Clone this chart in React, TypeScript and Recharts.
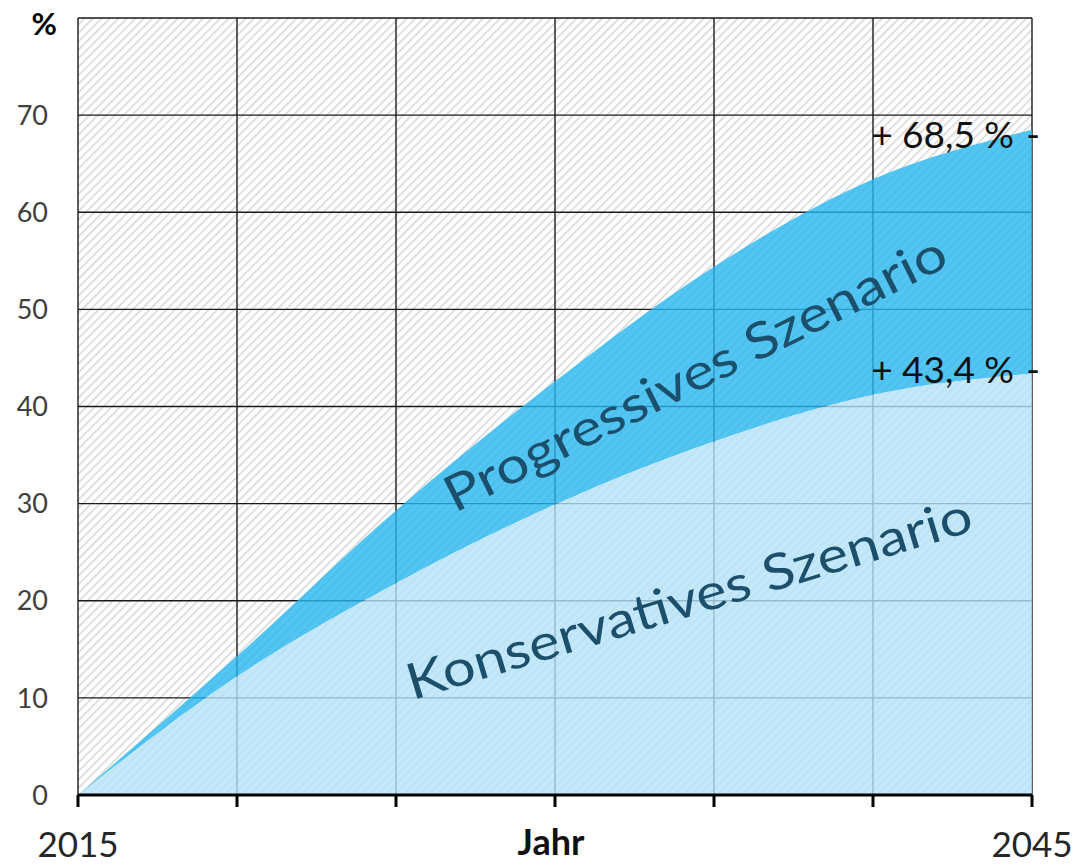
import { ComposedChart, Area, XAxis, YAxis, CartesianGrid, ReferenceDot, Label } from "recharts";

const YEARS = [2015, 2020, 2025, 2030, 2035, 2040, 2045];
const PROGRESSIVE = [0, 14.3, 29.3, 42.6, 54.4, 63.4, 68.5];
const CONSERVATIVE = [0, 12.2, 21.8, 29.9, 36.4, 41.2, 43.4];
const Y_TICKS = [0, 10, 20, 30, 40, 50, 60, 70, 80];
const X_TICK_LABELS = ["2015", "", "", "", "", "", "2045"];
const X_TITLE = "Jahr";
const Y_UNIT = "%";
const END_LABELS = ["+ 68,5 %", "+ 43,4 %"];
const SCENARIO_NAMES = ["Progressives Szenario", "Konservatives Szenario"];

const FONT = "Lato, 'Open Sans', sans-serif";
const TEXT_DARK = "#1b4f6b";

const data = YEARS.map((year, i) => ({
  year,
  kons: CONSERVATIVE[i],
  band: [CONSERVATIVE[i], PROGRESSIVE[i]],
}));

function YTick({ x, y, payload }: any) {
  if (payload.value === 80) {
    return (
      <text x={x + 9} y={y + 17} textAnchor="end" fontFamily={FONT} fontSize={31} fontWeight={700} fill="#000">
        {Y_UNIT}
      </text>
    );
  }
  return (
    <text x={x} y={y} dy="0.36em" textAnchor="end" fontFamily={FONT} fontSize={27} fill="#404040">
      {payload.value}
    </text>
  );
}

function XTick({ x, y, index }: any) {
  const label = X_TICK_LABELS[index] ?? "";
  if (!label) return null;
  return (
    <text x={x} y={y} dy={48} textAnchor="middle" fontFamily={FONT} fontSize={35} fill="#262626">
      {label}
    </text>
  );
}

function endLabel(text: string, dy: number) {
  return (props: any) => {
    const { x, y } = props.viewBox;
    return (
      <g>
        <text x={x - 18} y={y + dy} textAnchor="end" fontFamily={FONT} fontSize={37} fill="#111">
          {text}
        </text>
        <text x={x + 1} y={y + dy} textAnchor="middle" fontFamily={FONT} fontSize={37} fill="#111">
          -
        </text>
      </g>
    );
  };
}

function scenarioLabel(text: string, angle: number, length: number) {
  return (props: any) => {
    const { x, y } = props.viewBox;
    return (
      <text
        x={x}
        y={y}
        textAnchor="middle"
        transform={`rotate(${angle} ${x} ${y})`}
        fontFamily={FONT}
        fontSize={50}
        fill={TEXT_DARK}
        textLength={length}
        lengthAdjust="spacingAndGlyphs"
      >
        {text}
      </text>
    );
  };
}

export default function App() {
  return (
    <div style={{ position: "absolute", left: 0, top: 0, width: 1081, height: 865, background: "#fff" }}>
      <svg width={0} height={0} style={{ position: "absolute" }}>
        <defs>
          <pattern id="hatch" width={6} height={6} patternUnits="userSpaceOnUse" patternTransform="rotate(45)">
            <rect width={6} height={6} fill="#ffffff" />
            <rect x={0} y={0} width={1.4} height={6} fill="#d4d4d4" />
          </pattern>
        </defs>
      </svg>
      <ComposedChart width={1081} height={865} data={data} margin={{ top: 18, right: 49, bottom: 0, left: 0 }}>
        <CartesianGrid stroke="#1a1a1a" strokeWidth={1.4} fill="url(#hatch)" />
        <XAxis
          dataKey="year"
          type="number"
          domain={[2015, 2045]}
          ticks={YEARS}
          height={70}
          axisLine={{ stroke: "#000", strokeWidth: 3 }}
          tickLine={{ stroke: "#000", strokeWidth: 3 }}
          tickSize={12}
          tick={<XTick />}
          interval={0}
        >
          <Label
            content={(p: any) => {
              const vb = p.viewBox;
              return (
                <text x={551} y={vb.y + 60} textAnchor="middle" fontFamily={FONT} fontSize={36} fontWeight={700} fill="#111">
                  {X_TITLE}
                </text>
              );
            }}
          />
        </XAxis>
        <YAxis
          type="number"
          domain={[0, 80]}
          ticks={Y_TICKS}
          width={78}
          axisLine={false}
          tickLine={false}
          tickSize={0}
          tickMargin={30}
          tick={<YTick />}
          interval={0}
        />
        <Area
          type="monotone"
          dataKey="band"
          fill="#27b6ef"
          fillOpacity={0.8}
          stroke="none"
          isAnimationActive={false}
        />
        <Area
          type="monotone"
          dataKey="kons"
          fill="#b3e2f7"
          fillOpacity={0.8}
          stroke="none"
          isAnimationActive={false}
        />
        <ReferenceDot x={2034.65} y={41.8} r={0} fill="none" stroke="none" label={scenarioLabel(SCENARIO_NAMES[0], -26.6, 555)} />
        <ReferenceDot x={2034.37} y={18.5} r={0} fill="none" stroke="none" label={scenarioLabel(SCENARIO_NAMES[1], -16.8, 588)} />
        <ReferenceDot
          x={YEARS[YEARS.length - 1]}
          y={PROGRESSIVE[PROGRESSIVE.length - 1]}
          r={0}
          fill="none"
          stroke="none"
          label={endLabel(END_LABELS[0], 18)}
        />
        <ReferenceDot
          x={YEARS[YEARS.length - 1]}
          y={CONSERVATIVE[CONSERVATIVE.length - 1]}
          r={0}
          fill="none"
          stroke="none"
          label={endLabel(END_LABELS[1], 10)}
        />
      </ComposedChart>
    </div>
  );
}
